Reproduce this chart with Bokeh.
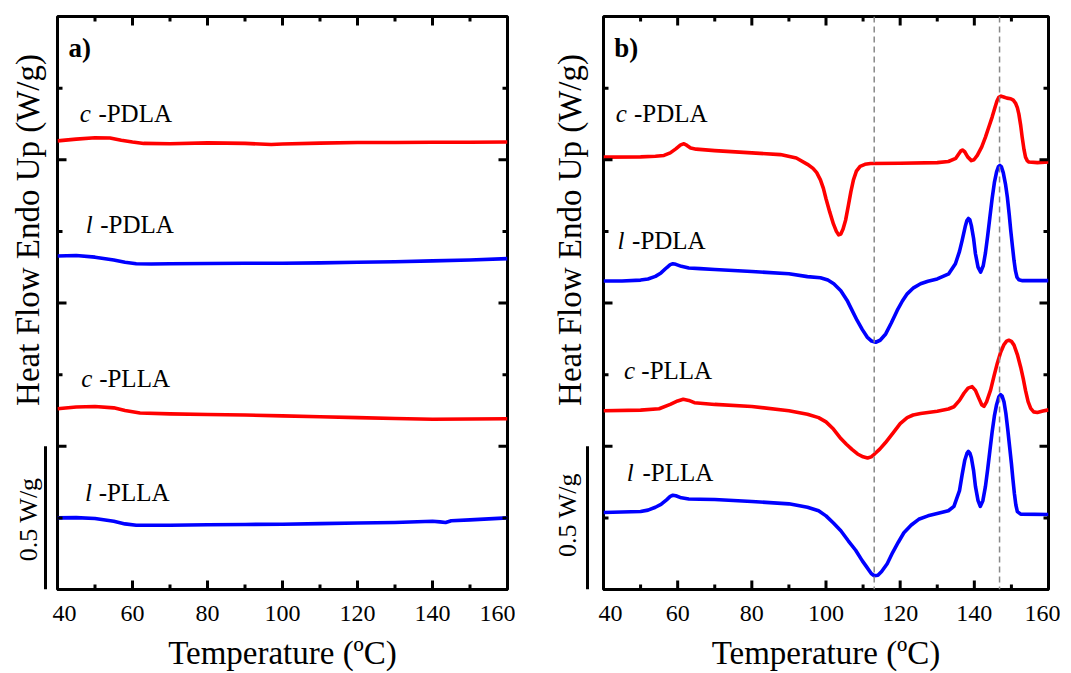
import math
from bokeh.plotting import figure
from bokeh.layouts import row
from bokeh.models import Range1d, FixedTicker, Label, Span
from bokeh.embed import file_html
from bokeh.resources import INLINE

# ---------------- data ----------------
# panel a) (left): temperature (degC) and heat flow (W/g, curves offset/stacked)
a_cpdla_T = [40, 45, 50, 54, 57, 60, 63, 70, 80, 90, 97, 100, 110, 120, 130, 140, 150, 160]
a_cpdla_W = [1.566, 1.572, 1.577, 1.576, 1.568, 1.562, 1.557, 1.556, 1.559, 1.557, 1.553, 1.555, 1.558, 1.560,
             1.560, 1.561, 1.561, 1.562]

a_lpdla_T = [40, 45, 50, 55, 58, 61, 65, 70, 80, 90, 100, 110, 120, 130, 140, 150, 160]
a_lpdla_W = [1.164, 1.166, 1.160, 1.150, 1.142, 1.137, 1.136, 1.137, 1.138, 1.139, 1.139, 1.140, 1.142, 1.144,
             1.147, 1.150, 1.155]

a_cplla_T = [40, 45, 50, 55, 58, 62, 70, 80, 90, 100, 110, 120, 130, 140, 150, 160]
a_cplla_W = [0.631, 0.637, 0.639, 0.634, 0.625, 0.616, 0.613, 0.611, 0.609, 0.606, 0.603, 0.600, 0.597, 0.594,
             0.595, 0.596]

a_lplla_T = [40, 45, 50, 55, 58, 61, 70, 80, 90, 100, 110, 120, 130, 140, 142, 143.5, 145, 150, 160]
a_lplla_W = [0.250, 0.251, 0.248, 0.238, 0.229, 0.224, 0.224, 0.226, 0.227, 0.228, 0.230, 0.232, 0.234, 0.238,
             0.236, 0.234, 0.240, 0.243, 0.250]

# panel b) (right)
b_cpdla_T = [40, 50, 54, 56.3, 58, 59.5, 60.8, 61.7, 62.5, 63.5, 65, 70, 80, 87.7, 92, 95, 96.5, 97.5, 98.5, 99.3,
             100, 101, 102, 102.8, 103.4, 104, 104.6, 105.3, 106, 106.7, 107.4, 108.2, 109.2, 110.5, 112, 120, 130,
             133, 135, 136.3, 136.8, 137.4, 138.2, 139.2, 139.9, 140.8, 142, 143, 144, 144.8, 145.5, 146.1, 146.6,
             147.2, 147.9, 148.8, 149.8, 150.5, 151.1, 151.6, 152.0, 152.5, 152.9, 153.4, 153.8, 154.3, 154.7,
             157, 160]
b_cpdla_W = [1.509, 1.510, 1.512, 1.515, 1.524, 1.538, 1.552, 1.556, 1.550, 1.541, 1.537, 1.532, 1.524, 1.518,
             1.506, 1.484, 1.470, 1.455, 1.430, 1.400, 1.364, 1.318, 1.276, 1.250, 1.238, 1.241, 1.258, 1.290,
             1.338, 1.388, 1.430, 1.460, 1.477, 1.484, 1.487, 1.488, 1.490, 1.494, 1.505, 1.530, 1.534, 1.528,
             1.510, 1.497, 1.500, 1.515, 1.545, 1.579, 1.618, 1.649, 1.680, 1.705, 1.718, 1.722, 1.719, 1.715,
             1.713, 1.708, 1.698, 1.682, 1.660, 1.620, 1.579, 1.535, 1.509, 1.496, 1.492, 1.490, 1.492]

b_lpdla_T = [40, 45, 50, 52, 54, 55.5, 57, 58, 58.7, 59.5, 61, 63, 66, 70, 80, 90, 95, 98.5, 100.5, 102.1, 104,
             105.7, 107, 108.4, 109.8, 111.1, 112.3, 113.4, 114.6, 116.1, 117.6, 119.2, 120.6, 121.9, 123.6, 125.5,
             127.5, 130, 133.1, 134.9, 136.0, 136.7, 137.6, 138.0, 138.4, 138.8, 139.2, 139.8, 140.3, 141.0, 141.7,
             142.4, 143.0, 143.6, 144.2, 144.8, 145.4, 146.0, 146.5, 146.9, 147.3, 147.8, 148.4, 148.9, 149.4,
             149.8, 150.3, 150.7, 151.1, 151.5, 152.0, 153, 160]
b_lpdla_W = [1.077, 1.077, 1.080, 1.084, 1.093, 1.105, 1.123, 1.134, 1.137, 1.135, 1.128, 1.122, 1.120, 1.117,
             1.110, 1.102, 1.092, 1.088, 1.080, 1.067, 1.043, 1.009, 0.975, 0.939, 0.907, 0.881, 0.867, 0.863,
             0.870, 0.892, 0.930, 0.974, 1.007, 1.032, 1.053, 1.067, 1.076, 1.084, 1.102, 1.137, 1.180, 1.218,
             1.270, 1.288, 1.295, 1.290, 1.270, 1.225, 1.172, 1.125, 1.108, 1.130, 1.175, 1.235, 1.300, 1.365,
             1.420, 1.458, 1.476, 1.480, 1.475, 1.455, 1.415, 1.370, 1.310, 1.255, 1.195, 1.148, 1.112, 1.090,
             1.081, 1.078, 1.078]

b_cplla_T = [40, 50, 55, 58, 60, 61.5, 63, 64.5, 70, 80, 90, 95, 98, 100, 102, 104, 105.5, 107, 108.5, 110,
             111.2, 112.2, 113, 114.5, 116, 118, 120, 121.9, 123.5, 125.5, 130, 133, 134.5, 136, 137.2, 138.3,
             139.4, 140.3, 141.2, 142, 142.6, 143.3, 144.4, 145.3, 146.2, 147.1, 148.0, 148.7, 149.3, 150.0,
             150.7, 151.6, 152.5, 153.2, 153.8, 154.5, 155.2, 156, 157, 158.5, 160]
b_cplla_W = [0.624, 0.626, 0.631, 0.646, 0.658, 0.664, 0.660, 0.652, 0.646, 0.639, 0.624, 0.612, 0.600, 0.585,
             0.560, 0.527, 0.507, 0.489, 0.473, 0.463, 0.459, 0.463, 0.472, 0.490, 0.512, 0.545, 0.579, 0.600,
             0.609, 0.614, 0.622, 0.630, 0.638, 0.660, 0.685, 0.703, 0.708, 0.695, 0.668, 0.645, 0.639, 0.655,
             0.697, 0.745, 0.790, 0.828, 0.855, 0.867, 0.870, 0.866, 0.853, 0.820, 0.776, 0.735, 0.695, 0.656,
             0.632, 0.620, 0.618, 0.623, 0.627]

b_lplla_T = [40, 50, 52, 54, 55.5, 57, 58, 58.7, 59.5, 61, 63, 66, 70, 80, 90, 95, 98, 100, 102, 104, 106, 108,
             109.8, 111, 112.2, 113, 114, 115, 116.5, 118, 119.5, 121, 123, 125, 127.5, 130, 133, 134.5, 136,
             136.7, 137.4, 138.0, 138.4, 138.8, 139.2, 139.8, 140.3, 141.0, 141.6, 142.3, 143.0, 143.6, 144.2,
             144.8, 145.4, 146.0, 146.6, 147.1, 147.5, 148.0, 148.5, 149.0, 149.5, 150.0, 150.4, 150.8, 151.2,
             151.6, 152.5, 160]
b_lplla_W = [0.269, 0.272, 0.277, 0.287, 0.297, 0.313, 0.325, 0.329, 0.327, 0.320, 0.316, 0.315, 0.314, 0.307,
             0.299, 0.287, 0.275, 0.257, 0.232, 0.205, 0.170, 0.137, 0.100, 0.078, 0.056, 0.048, 0.050, 0.063,
             0.090, 0.130, 0.165, 0.198, 0.225, 0.245, 0.257, 0.265, 0.275, 0.290, 0.345, 0.400, 0.450, 0.475,
             0.482, 0.476, 0.460, 0.415, 0.360, 0.310, 0.290, 0.310, 0.360, 0.420, 0.485, 0.550, 0.605, 0.645,
             0.672, 0.680, 0.675, 0.655, 0.615, 0.560, 0.500, 0.440, 0.385, 0.335, 0.295, 0.272, 0.263, 0.262]

dash_positions = [113.0, 146.8]
x_major = [40, 60, 80, 100, 120, 140, 160]
x_minor = [50, 70, 90, 110, 130, 150]
y_major = [0, 0.5, 1.0, 1.5, 2.0]
y_minor = [0.25, 0.75, 1.25, 1.75]
scale_bar = [0.0, 0.5]
X_RANGE = (40, 160)
Y_RANGE = (0, 2)

RED = "#ff0000"
BLUE = "#0000ff"
FONT = "Liberation Serif"

FIG_H = 673
TOP = 16
BOTTOM = 84
FRAME_H = FIG_H - TOP - BOTTOM
PX_PER_W = FRAME_H / (Y_RANGE[1] - Y_RANGE[0])


def tick_marks(p, px_per_x):
    lm, ln = 9, 5
    dyM, dym = lm / PX_PER_W, ln / PX_PER_W
    dxM, dxm = lm / px_per_x, ln / px_per_x
    kw = dict(line_color="black", line_width=3)
    y0, y1 = Y_RANGE
    x0, x1 = X_RANGE
    p.segment(x_major, [y0] * len(x_major), x_major, [y0 + dyM] * len(x_major), **kw)
    p.segment(x_minor, [y0] * len(x_minor), x_minor, [y0 + dym] * len(x_minor), **kw)
    p.segment(x_major, [y1] * len(x_major), x_major, [y1 - dyM] * len(x_major), **kw)
    p.segment(x_minor, [y1] * len(x_minor), x_minor, [y1 - dym] * len(x_minor), **kw)
    p.segment([x0] * len(y_major), y_major, [x0 + dxM] * len(y_major), y_major, **kw)
    p.segment([x0] * len(y_minor), y_minor, [x0 + dxm] * len(y_minor), y_minor, **kw)
    p.segment([x1] * len(y_major), y_major, [x1 - dxM] * len(y_major), y_major, **kw)
    p.segment([x1] * len(y_minor), y_minor, [x1 - dxm] * len(y_minor), y_minor, **kw)


def make_panel(series, tag, labels, frame_w, left, right, dashes):
    width = left + frame_w + right
    p = figure(width=width, height=FIG_H, output_backend="svg", toolbar_location=None,
               x_range=Range1d(*X_RANGE), y_range=Range1d(*Y_RANGE),
               min_border_left=left, min_border_right=right, min_border_top=TOP, min_border_bottom=BOTTOM)
    p.outline_line_color = "black"
    p.outline_line_width = 3
    p.grid.visible = False
    p.yaxis.visible = False
    p.background_fill_color = None
    p.border_fill_color = None

    ax = p.xaxis[0]
    ax.ticker = FixedTicker(ticks=x_major, minor_ticks=x_minor)
    ax.axis_line_width = 3
    ax.axis_line_color = "black"
    ax.major_tick_in = 0
    ax.major_tick_out = 0
    ax.minor_tick_in = 0
    ax.minor_tick_out = 0
    ax.major_label_text_font = FONT
    ax.major_label_text_font_size = "24px"
    ax.major_label_text_color = "black"
    ax.major_label_standoff = 16
    ax.axis_label = "Temperature (ºC)"
    ax.axis_label_text_font = FONT
    ax.axis_label_text_font_size = "33px"
    ax.axis_label_text_font_style = "normal"
    ax.axis_label_text_color = "black"
    ax.axis_label_standoff = 11

    for loc in dashes:
        p.add_layout(Span(location=loc, dimension="height", line_color="#888888",
                          line_width=1.5, line_dash="6 4"))

    for (T, W, col) in series:
        p.line(T, W, line_color=col, line_width=3.6, line_join="round")

    tick_marks(p, frame_w / (X_RANGE[1] - X_RANGE[0]))

    for (ix, rx, y, it, rest) in labels:
        p.add_layout(Label(x=ix, y=y, text=it, text_font=FONT, text_font_style="italic",
                           text_font_size="25px", text_color="black",
                           text_baseline="middle", text_align="left"))
        p.add_layout(Label(x=rx, y=y, text=rest, text_font=FONT, text_color="black",
                           text_font_size="25px", text_baseline="middle", text_align="left"))

    p.add_layout(Label(x=42.9, y=1.89, text=tag, text_font=FONT, text_font_style="bold",
                       text_font_size="27px", text_color="black",
                       text_baseline="middle", text_align="left"))
    return p


def make_strip(width, title_x, bar_x, barlabel_x, barlabel_y):
    # narrow figure holding the y-axis title and the 0.5 W/g scale bar;
    # same vertical borders and heat-flow range as the panels, so the bar is to scale
    s = figure(width=width, height=FIG_H, output_backend="svg", toolbar_location=None,
               x_range=Range1d(0, width), y_range=Range1d(*Y_RANGE),
               x_axis_type=None, y_axis_type=None,
               min_border_left=0, min_border_right=0, min_border_top=TOP, min_border_bottom=BOTTOM)
    s.outline_line_color = None
    s.grid.visible = False
    s.background_fill_color = None
    s.border_fill_color = None
    s.add_layout(Label(x=title_x, y=1.255, text="Heat Flow Endo Up (W/g)", text_font=FONT,
                       text_font_size="33px", text_color="black",
                       text_baseline="middle", text_align="center", angle=math.pi / 2))
    s.add_layout(Label(x=barlabel_x, y=barlabel_y, text="0.5 W/g", text_font=FONT,
                       text_font_size="26px", text_color="black",
                       text_baseline="middle", text_align="center", angle=math.pi / 2))
    s.line([bar_x, bar_x], scale_bar, line_color="black", line_width=3)
    return s


left_labels = [
    (45.9, 50.9, 1.662, "c", "-PDLA"),
    (47.5, 51.4, 1.275, "l", "-PDLA"),
    (46.3, 51.1, 0.736, "c", "-PLLA"),
    (47.3, 51.0, 0.340, "l", "-PLLA"),
]
right_labels = [
    (43.3, 48.2, 1.661, "c", "-PDLA"),
    (43.8, 47.7, 1.219, "l", "-PDLA"),
    (45.5, 50.2, 0.766, "c", "-PLLA"),
    (46.3, 50.5, 0.407, "l", "-PLLA"),
]

strip_a = make_strip(52, title_x=27, bar_x=45, barlabel_x=28, barlabel_y=0.245)
pa = make_panel([(a_cpdla_T, a_cpdla_W, RED), (a_lpdla_T, a_lpdla_W, BLUE),
                 (a_cplla_T, a_cplla_W, RED), (a_lplla_T, a_lplla_W, BLUE)],
                "a)", left_labels, frame_w=450, left=5, right=8, dashes=[])
strip_b = make_strip(83, title_x=54, bar_x=72, barlabel_x=52, barlabel_y=0.26)
pb = make_panel([(b_cpdla_T, b_cpdla_W, RED), (b_lpdla_T, b_lpdla_W, BLUE),
                 (b_cplla_T, b_cplla_W, RED), (b_lplla_T, b_lplla_W, BLUE)],
                "b)", right_labels, frame_w=445, left=5, right=12, dashes=dash_positions)

layout = row(strip_a, pa, strip_b, pb)
open("out.html", "w").write(file_html(layout, INLINE))
